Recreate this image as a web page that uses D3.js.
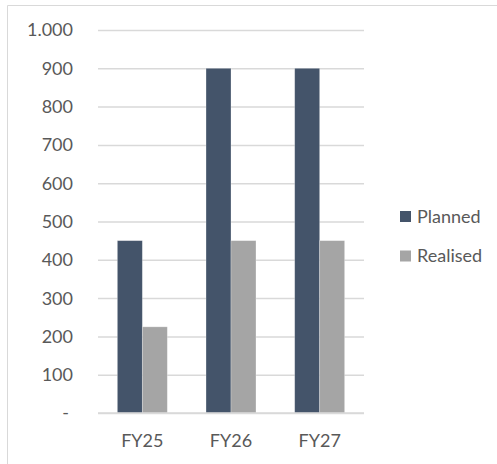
<!DOCTYPE html>
<html>
<head>
<meta charset="utf-8">
<script src="https://cdn.jsdelivr.net/npm/d3@7"></script>
<style>
  html, body { margin: 0; padding: 0; background: #ffffff; }
  svg { display: block; }
  text { font-family: Lato, "Liberation Sans", sans-serif; fill: #595959; }
</style>
</head>
<body>
<svg id="chart" width="497" height="464"></svg>
<script>
const categories = ["FY25", "FY26", "FY27"];
const seriesNames = ["Planned", "Realised"];
const planned = [450, 900, 900];
const realised = [225, 450, 450];
const yTicks = [0, 100, 200, 300, 400, 500, 600, 700, 800, 900, 1000];
const seriesColors = ["#44546A", "#A5A5A5"];

const seriesValues = [planned, realised];
const rows = categories.map((c, i) => ({
  category: c,
  values: seriesNames.map((s, j) => ({ series: s, value: seriesValues[j][i], color: seriesColors[j] }))
}));

const svg = d3.select("#chart");
const W = 497, H = 464;
const plot = { left: 98, right: 364, top: 30, bottom: 413 };

// outer chart border (only left and top edges visible in the crop)
svg.append("path")
  .attr("d", `M7.5,${H} V5.5 H${W}`)
  .attr("fill", "none")
  .attr("stroke", "#D9D9D9")
  .attr("stroke-width", 1);

const y = d3.scaleLinear().domain([0, 1000]).range([plot.bottom, plot.top]);
const x = d3.scaleBand().domain(categories).range([plot.left, plot.right]).paddingInner(0).paddingOuter(0);
const x1 = d3.scaleBand().domain(seriesNames).range([0, x.bandwidth()]).paddingInner(0).paddingOuter(0.775);

const fmt = v => v === 0 ? "-" : d3.format(",")(v).replace(/,/g, ".");

// gridlines
const yAxis = d3.axisLeft(y).tickValues(yTicks).tickSize(-(plot.right - plot.left)).tickFormat("");
svg.append("g")
  .attr("transform", `translate(${plot.left},0)`)
  .call(yAxis)
  .call(g => g.select(".domain").remove())
  .call(g => g.selectAll(".tick line").attr("stroke", "#D9D9D9").attr("stroke-width", 1.5));

// y labels
svg.append("g").selectAll("text")
  .data(yTicks)
  .join("text")
  .attr("x", d => d === 0 ? 69 : 73)
  .attr("y", d => y(d))
  .attr("dy", "0.36em")
  .attr("text-anchor", "end")
  .attr("font-size", 18)
  .text(fmt);

// bars
const groups = svg.append("g").selectAll("g")
  .data(rows)
  .join("g")
  .attr("transform", d => `translate(${x(d.category)},0)`);

groups.selectAll("rect")
  .data(d => d.values)
  .join("rect")
  .attr("x", d => x1(d.series))
  .attr("width", x1.bandwidth())
  .attr("y", d => y(d.value))
  .attr("height", d => y(0) - y(d.value))
  .attr("fill", d => d.color)
  .attr("stroke", "#ffffff")
  .attr("stroke-opacity", 0.35)
  .attr("stroke-width", 0.75);

// baseline axis
svg.append("line")
  .attr("x1", plot.left).attr("x2", plot.right)
  .attr("y1", y(0)).attr("y2", y(0))
  .attr("stroke", "#D9D9D9").attr("stroke-width", 1.5);

// category labels
const xAxis = d3.axisBottom(x).tickSize(0).tickPadding(0);
svg.append("g")
  .attr("transform", `translate(0,${plot.bottom})`)
  .call(xAxis)
  .call(g => g.select(".domain").remove())
  .call(g => g.selectAll(".tick text")
    .attr("y", 34)
    .attr("dy", 0)
    .attr("font-size", 18)
    .attr("font-family", "Lato, 'Liberation Sans', sans-serif")
    .attr("fill", "#595959"));

// legend
const legend = svg.append("g").selectAll("g")
  .data(seriesNames)
  .join("g")
  .attr("transform", (d, i) => `translate(400,${216.5 + i * 39.5})`);

legend.append("rect")
  .attr("x", 0).attr("y", -5.5)
  .attr("width", 11).attr("height", 11)
  .attr("fill", (d, i) => seriesColors[i]);

legend.append("text")
  .attr("x", 17)
  .attr("y", 0)
  .attr("dy", "0.36em")
  .attr("font-size", 18)
  .text(d => d);
</script>
</body>
</html>
